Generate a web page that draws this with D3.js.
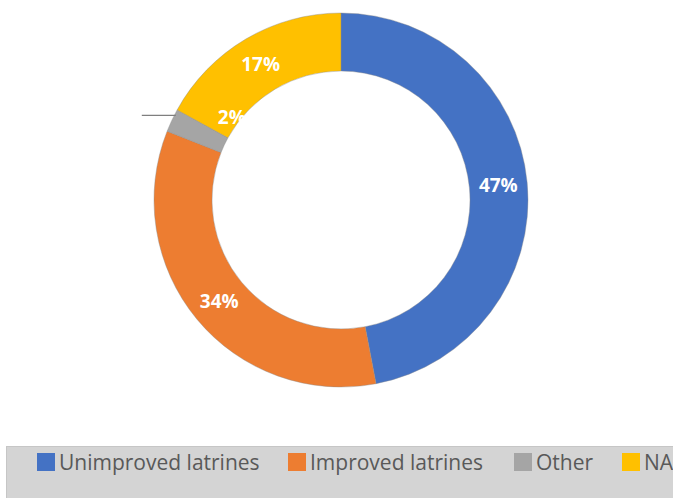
<!DOCTYPE html>
<html>
<head>
<meta charset="utf-8">
<script src="https://cdn.jsdelivr.net/npm/d3@7"></script>
<style>
  html, body { margin: 0; padding: 0; background: #fff; }
  svg { display: block; }
</style>
</head>
<body>
<svg id="chart" width="673" height="498"></svg>
<script>
// Sanitation categories and their shares (%)
const categories = ["Unimproved latrines", "Improved latrines", "Other", "NA"];
const values = [47, 34, 2, 17];
const colors = ["#4472c4", "#ed7d31", "#a5a5a5", "#ffc000"];

const cx = 341, cy = 200;
const outerR = 187, innerR = 129;

const svg = d3.select("#chart");
const data = categories.map((c, i) => ({ name: c, value: values[i], color: colors[i] }));

const pie = d3.pie().value(d => d.value).sort(null);
const arc = d3.arc().innerRadius(innerR).outerRadius(outerR);
const labelArc = d3.arc().innerRadius((innerR + outerR) / 2).outerRadius((innerR + outerR) / 2);

const arcs = pie(data);
const g = svg.append("g").attr("transform", `translate(${cx},${cy})`);

g.selectAll("path.slice")
  .data(arcs)
  .join("path")
  .attr("class", "slice")
  .attr("d", arc)
  .attr("fill", d => d.data.color)
  .attr("stroke", "#8a8a8a")
  .attr("stroke-opacity", 0.5)
  .attr("stroke-width", 0.8);

// Leader line for the small slice, running left from its outer edge
const small = arcs[2];
const midA = (small.startAngle + small.endAngle) / 2;
const edgeX = Math.sin(midA) * outerR, edgeY = -Math.cos(midA) * outerR;
g.append("line")
  .attr("x1", edgeX + 4).attr("y1", edgeY - 5)
  .attr("x2", edgeX - 30).attr("y2", edgeY - 5)
  .attr("stroke", "#7f7f7f").attr("stroke-width", 1.3);

// Percentage labels
const labelFont = "'Open Sans', 'Noto Sans', sans-serif";
g.selectAll("text.pct")
  .data(arcs)
  .join("text")
  .attr("class", "pct")
  .attr("transform", d => {
    let [x, y] = labelArc.centroid(d);
    if (d.index === 2) { x = edgeX + 60; y = edgeY - 3; }
    return `translate(${x},${y})`;
  })
  .attr("text-anchor", "middle")
  .attr("dominant-baseline", "central")
  .attr("font-family", labelFont)
  .attr("font-weight", 700)
  .attr("font-size", 19)
  .attr("fill", "#fff")
  .text(d => d.data.value + "%");

// Legend panel
const legend = svg.append("g");
legend.append("rect")
  .attr("x", 6.5).attr("y", 446.5)
  .attr("width", 700).attr("height", 60)
  .attr("fill", "#d4d4d4")
  .attr("stroke", "#c6c6c6");

const legendX = [37, 288, 514, 622];
const items = legend.selectAll("g.item")
  .data(data)
  .join("g")
  .attr("class", "item")
  .attr("transform", (d, i) => `translate(${legendX[i]},453)`);
items.append("rect")
  .attr("width", 18).attr("height", 18)
  .attr("fill", d => d.color);
items.append("text")
  .attr("x", 22).attr("y", 17)
  .attr("font-family", labelFont)
  .attr("font-size", 21)
  .attr("fill", "#595959")
  .text(d => d.name);
</script>
</body>
</html>
